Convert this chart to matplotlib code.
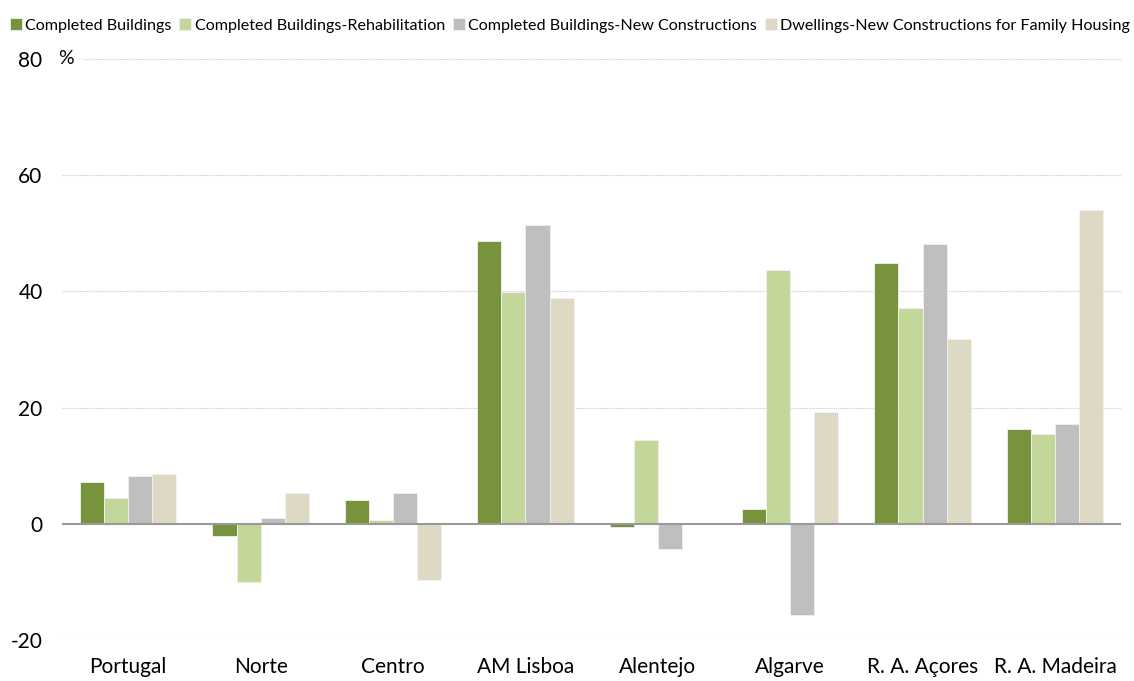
#!/usr/bin/env python3
import numpy as np
import matplotlib
matplotlib.use("Agg")
import matplotlib.pyplot as plt

plt.rcParams["font.family"] = ["Lato", "DejaVu Sans"]

REGIONS = ["Portugal", "Norte", "Centro", "AM Lisboa", "Alentejo",
           "Algarve", "R. A. Açores", "R. A. Madeira"]
SERIES = ["Completed Buildings", "Completed Buildings-Rehabilitation",
          "Completed Buildings-New Constructions",
          "Dwellings-New Constructions for Family Housing"]

completed = [7.2, -2.1, 4.1, 48.6, -0.6, 2.5, 44.8, 16.3]
rehab = [4.5, -10.1, 0.6, 39.9, 14.5, 43.7, 37.2, 15.4]
new_constr = [8.3, 1.0, 5.3, 51.5, -4.3, -15.7, 48.2, 17.1]
dwellings = [8.5, 5.3, -9.7, 38.8, np.nan, 19.2, 31.8, 54.0]

COLORS = ["#77933C", "#C4D79B", "#BFBFBF", "#DDD9C4"]
Y_TICKS = [-20, 0, 20, 40, 60, 80]


def main():
    fig = plt.figure(figsize=(11.34, 6.81), dpi=100)
    ax = fig.add_axes([0.0547, 0.0602, 0.934, 0.8532])

    x = np.arange(len(REGIONS))
    width = 0.182
    data = [completed, rehab, new_constr, dwellings]
    for i, (vals, col, name) in enumerate(zip(data, COLORS, SERIES)):
        ax.bar(x + (i - 1.5) * width, vals, width, color=col, label=name,
               edgecolor="#f2f2f2", linewidth=0.6, zorder=3)

    ax.set_xlim(-0.5, len(REGIONS) - 0.5)
    ax.set_ylim(-20, 80)
    ax.set_yticks(Y_TICKS)
    ax.set_yticklabels([str(v) for v in Y_TICKS], fontsize=15)
    ax.set_xticks(x)
    ax.set_xticklabels(REGIONS, fontsize=15)
    ax.tick_params(length=0)
    ax.tick_params(axis="y", pad=14)
    ax.tick_params(axis="x", pad=12)

    for v in Y_TICKS:
        if v != 0:
            ax.axhline(v, color="#c8c8c8", linewidth=0.8, linestyle=(0, (1, 1)), zorder=1)
    ax.axhline(0, color="#999999", linewidth=1.5, zorder=4)

    for s in ax.spines.values():
        s.set_visible(False)

    ax.text(-0.004, 80, "%", fontsize=14, ha="left", va="center",
            transform=ax.get_yaxis_transform(), zorder=5,
            bbox=dict(facecolor="white", edgecolor="none", pad=6))

    fig.legend(loc="upper left", bbox_to_anchor=(0.0, 0.988), ncol=4,
               frameon=False, fontsize=11.6, handlelength=0.75,
               handleheight=0.8, handletextpad=0.2, columnspacing=0.5,
               borderaxespad=0.2)

    fig.savefig("out.png", dpi=100)


if __name__ == "__main__":
    main()
